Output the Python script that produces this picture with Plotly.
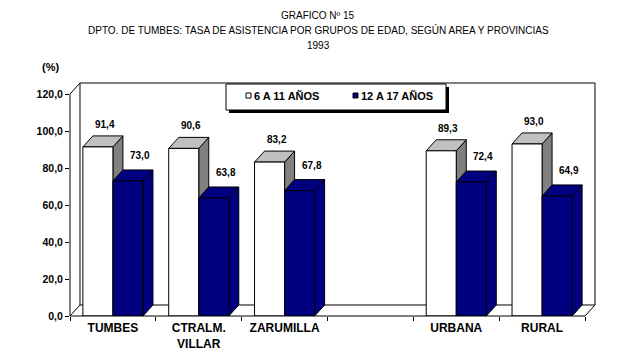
import plotly.graph_objects as go

# ---------------- data ----------------
categories = ["TUMBES", "CTRALM.<br>VILLAR", "ZARUMILLA", "", "URBANA", "RURAL"]
series_names = ["6 A 11 AÑOS", "12 A 17 AÑOS"]
v_6_11 = [91.4, 90.6, 83.2, None, 89.3, 93.0]
v_12_17 = [73.0, 63.8, 67.8, None, 72.4, 64.9]
y_ticks = [0, 20, 40, 60, 80, 100, 120]
y_ticktext = ["0,0", "20,0", "40,0", "60,0", "80,0", "100,0", "120,0"]

# ---------------- style ----------------
FONT = "Liberation Sans, Arial, sans-serif"
W, H = 629, 352
L, R, T, B = 70, 595, 83, 316          # plot area in pixels
BAR_W = 0.35                            # bar width in category units
DX, DY = 0.1165, 5.95                   # 3-D depth offset in data units
NAVY = "#000080"
X_LO, X_FRONT = -0.5, len(categories) - 0.5
Y_TOP = max(y_ticks)
X_HI, Y_HI = X_FRONT + DX, Y_TOP + DY

def ppx(xp):  # pixel -> paper x
    return (xp - L) / (R - L)

def ppy(yp):  # pixel -> paper y
    return (B - yp) / (B - T)

def dpx(x):   # data x -> paper x
    return (x - X_LO) / (X_HI - X_LO)

def dpy(y):   # data y -> paper y
    return y / Y_HI

fig = go.Figure()

styles = [
    dict(name=series_names[0], vals=v_6_11, offset=-BAR_W, face="white",
         top="#c0c0c0", side="#808080", lx=7, ly=15),
    dict(name=series_names[1], vals=v_12_17, offset=0.0, face=NAVY,
         top=NAVY, side=NAVY, lx=12, ly=18),
]

shapes = []
def pline(x0, y0, x1, y1, layer="below"):
    shapes.append(dict(type="line", xref="paper", yref="paper",
                       x0=dpx(x0), y0=dpy(y0), x1=dpx(x1), y1=dpy(y1),
                       line=dict(color="black", width=1), layer=layer))

# ---- frame (back wall, floor, left wall edges) ----
shapes.append(dict(type="rect", xref="paper", yref="paper",
                   x0=dpx(X_LO + DX), y0=dpy(DY), x1=dpx(X_FRONT + DX), y1=dpy(Y_TOP + DY),
                   line=dict(color="black", width=1), fillcolor="white", layer="below"))
pline(X_LO, 0, X_LO + DX, DY)
pline(X_FRONT, 0, X_FRONT + DX, DY)
pline(X_LO, Y_TOP, X_LO + DX, Y_TOP + DY)

# ---- 3-D faces of bars ----
annotations = []
for st in styles:
    for i, v in enumerate(st["vals"]):
        if v is None:
            continue
        xl = i + st["offset"]
        xr = xl + BAR_W
        shapes.append(dict(type="path", xref="x", yref="y", layer="below",
                           path=f"M {xr},{0} L {xr+DX},{DY} L {xr+DX},{v+DY} L {xr},{v} Z",
                           fillcolor=st["side"], line=dict(color="black", width=1)))
        shapes.append(dict(type="path", xref="x", yref="y", layer="below",
                           path=f"M {xl},{v} L {xr},{v} L {xr+DX},{v+DY} L {xl+DX},{v+DY} Z",
                           fillcolor=st["top"], line=dict(color="black", width=1)))
        annotations.append(dict(x=xl + BAR_W / 2, y=v, xref="x", yref="y",
                                text=f"{v:.1f}".replace(".", ","), showarrow=False,
                                xanchor="center", yanchor="bottom",
                                xshift=st["lx"], yshift=st["ly"],
                                font=dict(family=FONT, size=10, color="black", weight="bold")))
    fig.add_trace(go.Bar(
        x=list(range(len(categories))), y=st["vals"], name=st["name"],
        offset=st["offset"], width=BAR_W,
        marker=dict(color=st["face"], line=dict(color="black", width=1)),
        showlegend=False, hoverinfo="skip"))

# front axis lines
pline(X_LO, 0, X_FRONT, 0, layer="above")
pline(X_LO, 0, X_LO, Y_TOP, layer="above")

# ---- custom legend ----
shapes.append(dict(type="rect", xref="paper", yref="paper",
                   x0=ppx(229), y0=ppy(113), x1=ppx(449), y1=ppy(87),
                   fillcolor="black", line=dict(width=0), layer="above"))
shapes.append(dict(type="rect", xref="paper", yref="paper",
                   x0=ppx(226), y0=ppy(110), x1=ppx(446), y1=ppy(84),
                   fillcolor="white", line=dict(color="black", width=1), layer="above"))
for sx, st in zip([246, 353], styles):
    shapes.append(dict(type="rect", xref="paper", yref="paper",
                       x0=ppx(sx), y0=ppy(98), x1=ppx(sx + 5), y1=ppy(93),
                       fillcolor=st["face"], line=dict(color="black", width=1), layer="above"))
    annotations.append(dict(x=ppx(sx + 6), y=ppy(96), xref="paper", yref="paper",
                            text=st["name"], showarrow=False, xanchor="left", yanchor="middle",
                            font=dict(family=FONT, size=11, color="black", weight="bold")))

# ---- titles ----
for txt, yp in [("GRAFICO Nº 15", 15),
                ("DPTO. DE TUMBES: TASA DE ASISTENCIA POR GRUPOS DE EDAD, SEGÚN AREA Y PROVINCIAS", 30),
                ("1993", 45)]:
    annotations.append(dict(x=ppx(318), y=ppy(yp), xref="paper", yref="paper", text=txt,
                            showarrow=False, xanchor="center", yanchor="middle",
                            font=dict(family=FONT, size=10, color="black")))
annotations.append(dict(x=ppx(50), y=ppy(67), xref="paper", yref="paper", text="(%)",
                        showarrow=False, xanchor="center", yanchor="middle",
                        font=dict(family=FONT, size=11, color="black", weight="bold")))

fig.update_layout(
    width=W, height=H,
    margin=dict(l=L, r=W - R, t=T, b=H - B, pad=0, autoexpand=False),
    paper_bgcolor="white", plot_bgcolor="white",
    barmode="overlay", showlegend=False,
    shapes=shapes, annotations=annotations,
    xaxis=dict(range=[X_LO, X_HI], tickvals=list(range(len(categories))), ticktext=categories,
               ticks="", showgrid=False, zeroline=False, showline=False, automargin=False,
               ticklabelstandoff=3,
               tickfont=dict(family=FONT, size=12, color="black", weight="bold"),
               minor=dict(tickvals=[k - 0.5 for k in range(len(categories) + 1)],
                          ticks="outside", ticklen=4, tickcolor="black", showgrid=False),
               fixedrange=True),
    yaxis=dict(range=[0, Y_HI], tickvals=y_ticks, ticktext=y_ticktext,
               ticks="outside", ticklen=4, tickcolor="black", automargin=False,
               showgrid=False, zeroline=False, showline=False,
               tickfont=dict(family=FONT, size=10.5, color="black", weight="bold"),
               fixedrange=True),
)

fig.write_html("out.html")
